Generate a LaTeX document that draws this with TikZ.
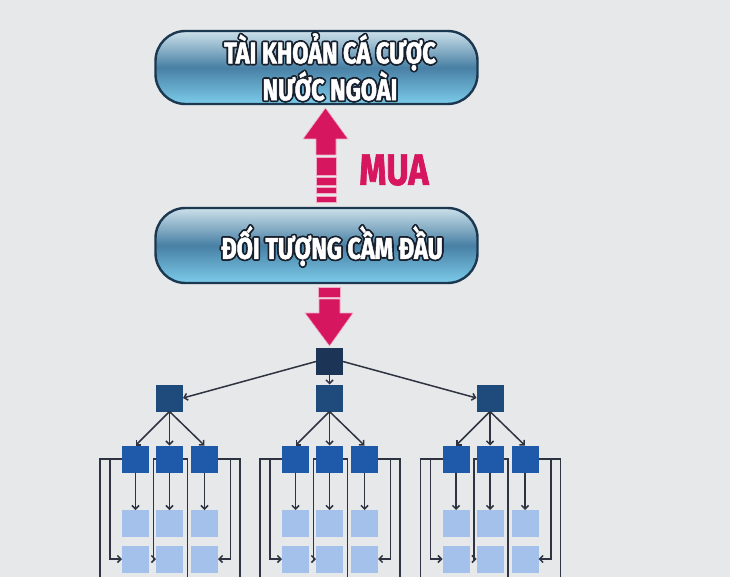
\documentclass[tikz,border=0pt]{standalone}
\usepackage{fontspec}
\newfontfamily\bannerfont[FakeStretch=0.78, FakeBold=1.6]{Fira Sans}
\usetikzlibrary{positioning,calc,arrows.meta}

\definecolor{bgcol}{HTML}{E7E8EA}
\definecolor{hot}{HTML}{D6175F}
\definecolor{hotedge}{HTML}{F2A9C4}
\definecolor{pilledge}{HTML}{1B3850}
\definecolor{pilltop}{HTML}{CCE0EA}
\definecolor{pillmid}{HTML}{4880A4}
\definecolor{pillbot}{HTML}{7CCBEA}
\definecolor{textedge}{HTML}{17202C}
\definecolor{bosscol}{HTML}{1C3556}
\definecolor{midcol}{HTML}{1F4A7C}
\definecolor{leafcol}{HTML}{1F5AAA}
\definecolor{lightcol}{HTML}{A3C1EA}
\definecolor{wirecol}{HTML}{2D3340}

\tikzset{
  pill/.style={draw=pilledge, line width=2.4pt, rounded corners=30pt,
    minimum width=322pt, top color=pilltop, bottom color=pillbot, middle color=pillmid},
  banner/.style={font=\bannerfont\bfseries\fontsize{30}{34}\selectfont, align=center, text=white},
  bannershade/.style={banner, text=textedge},
  box/.style={minimum size=27pt, inner sep=0pt, outer sep=0pt},
  boss/.style={box, fill=bosscol},
  midbox/.style={box, fill=midcol},
  leafbox/.style={box, fill=leafcol},
  lightbox/.style={box, fill=lightcol},
  wire/.style={draw=wirecol, line width=1.5pt},
  link/.style={wire, -{Straight Barb[length=3.5pt,width=7pt]}},
  bigarrow/.style={fill=hot, draw=hotedge, line width=0.6pt}
}

\begin{document}
\begin{tikzpicture}[x=1pt, y=-1pt]
  \useasboundingbox[fill=bgcol] (0,0) rectangle (730,577);

  % the two banners
  \node[pill, minimum height=73pt] (acct) at (316.5,67.5) {};
  \foreach \a in {0,30,...,330}
    \node[bannershade] (accttxt\a) at ($(330,67)+(\a:1.7)$) {TÀI KHOẢN CÁ CƯỢC\\NƯỚC NGOÀI};
  \node[banner] (accttxt) at (330,67) {TÀI KHOẢN CÁ CƯỢC\\NƯỚC NGOÀI};

  \node[pill, minimum height=75pt] (lead) at (316.5,245.5) {};
  \foreach \a in {0,30,...,330}
    \node[bannershade] (leadtxt\a) at ($(332,246)+(\a:1.7)$) {ĐỐI TƯỢNG CẦM ĐẦU};
  \node[banner] (leadtxt) at (332,246) {ĐỐI TƯỢNG CẦM ĐẦU};

  % buy arrow
  \path[bigarrow] (303,139) -- (325.5,108) -- (348,139) -- (336,139) -- (336,155)
    -- (316,155) -- (316,139) -- cycle;
  \foreach \ya/\yb in {157/175,177/185,187/193,196/202}
    \path[bigarrow] (316,\ya) rectangle (336,\yb);
  \node[text=hot, font=\bannerfont\bfseries\fontsize{44}{44}\selectfont] (buy) at (394,170) {MUA};

  % down arrow
  \path[bigarrow] (318,287) rectangle (340,297);
  \path[bigarrow] (319,299) -- (340,299) -- (340,313) -- (353,313) -- (329.5,346)
    -- (305,313) -- (319,313) -- cycle;

  % the network
  \node[boss] (top) at (329.5,361.5) {};
  \foreach \g/\gx in {a/169.5,b/329.5,c/490}{
    \node[midbox] (m\g) at (\gx,398) {};
    \foreach \c/\dx in {1/-34,2/0,3/35}{
      \node[leafbox] (l\g\c) at (\gx+\dx,459) {};
      \node[lightbox] (p\g\c) at (\gx+\dx,523.5) {};
      \node[lightbox] (q\g\c) at (\gx+\dx,559) {};
      \draw[link] (m\g.south) -- (l\g\c.north);
      \draw[link] (l\g\c.south) -- (p\g\c.north);
    }
    \coordinate (ea\g) at (\gx-69.5,577);
    \coordinate (eb\g) at (\gx+18,577);
    \coordinate (ec\g) at (\gx+70.5,577);
    \coordinate (ja\g) at (\gx-59.5,459);
    \coordinate (jc\g) at (\gx+61,459);
    \draw[wire] (l\g1.west) -| (ea\g);
    \draw[link] (ja\g) |- (q\g1.west);
    \draw[link] (l\g2.west) -- ++(-2.5,0) |- (q\g2.west);
    \draw[wire] (l\g2.east) -| (eb\g);
    \draw[wire] (l\g3.east) -| (ec\g);
    \draw[link] (jc\g) |- (q\g3.east);
  }
  \draw[link] (top.south) -- (mb.north);
  \draw[link] (top.west) -- (ma.east);
  \draw[link] (top.east) -- (mc.west);
\end{tikzpicture}
\end{document}
